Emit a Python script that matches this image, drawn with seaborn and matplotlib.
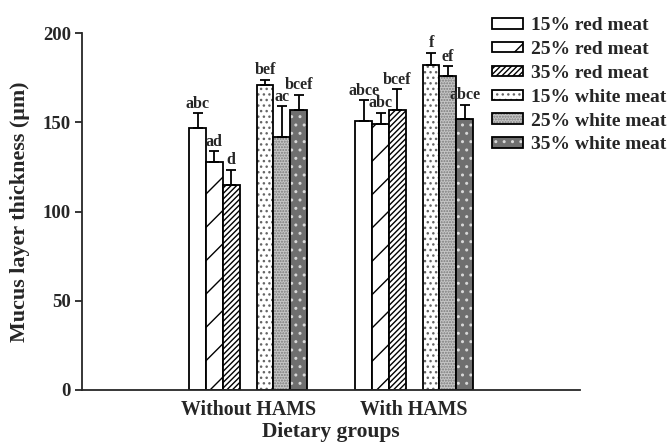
import numpy as np
import pandas as pd
import seaborn as sns
import matplotlib.pyplot as plt
import matplotlib.colors as mcolors

groups = ["Without HAMS", "With HAMS"]
diets = ["15% red meat", "25% red meat", "35% red meat",
         "15% white meat", "25% white meat", "35% white meat"]
mean_without = [147, 128, 115, 171, 142, 157]
mean_with = [151, 149, 157, 182, 176, 152]
err_without = [8, 6, 8.5, 3, 17, 8.5]
err_with = [11.5, 6.5, 11.5, 7, 5.5, 8]
letters_without = ["abc", "ad", "d", "bef", "ac", "bcef"]
letters_with = ["abce", "abc", "bcef", "f", "ef", "abce"]

# looks of each diet: face colour, hatch, hatch colour
faces = ["white", "white", "white", "white", "#c6c6c6", "#6f6f6f"]
hatches = ["", "/", "//////", "...", "......", ".."]
hatch_cols = ["black", "black", "black", "#666666", "#7a7a7a", "#d8d8d8"]

spacer = " "
hue_order = diets[:3] + [spacer] + diets[3:]
total_w = 0.71
slot_w = total_w / len(hue_order)

df = pd.DataFrame({
    "group": np.repeat(groups, len(diets)),
    "diet": diets * 2,
    "thickness": mean_without + mean_with,
    "err": err_without + err_with,
    "letter": letters_without + letters_with,
})

sns.set_style("ticks")
plt.rcParams["font.family"] = ["Liberation Serif", "DejaVu Serif"]
plt.rcParams["font.weight"] = "bold"
plt.rcParams["hatch.linewidth"] = 1.0

fig = plt.figure(figsize=(6.67, 4.46), dpi=100)
ax = fig.add_axes([0.123, 0.1256, 0.747, 0.80])

pal = {d: "white" for d in hue_order}
sns.barplot(data=df, x="group", y="thickness", hue="diet",
            order=groups, hue_order=hue_order, palette=pal,
            width=total_w, errorbar=None, legend=False,
            edgecolor="black", linewidth=1.3, ax=ax)

handles = [None] * len(diets)
xs, ms, es, ts = [], [], [], []
for p in list(ax.patches):
    if p.get_height() <= 0:
        continue
    xc = p.get_x() + p.get_width() / 2
    g = int(round(xc))
    slot = int(round((xc - g) / slot_w + (len(hue_order) - 1) / 2))
    i = diets.index(hue_order[slot])
    p.set_facecolor(faces[i])
    p.set_hatch(hatches[i])
    p._hatch_color = mcolors.to_rgba(hatch_cols[i])
    row = df[(df["group"] == groups[g]) & (df["diet"] == diets[i])].iloc[0]
    xs.append(xc)
    ms.append(row["thickness"])
    es.append(row["err"])
    ts.append(row["letter"])
    if handles[i] is None:
        handles[i] = p

ax.errorbar(xs, ms, yerr=[np.zeros(len(xs)), es], fmt="none", ecolor="black",
            elinewidth=1.3, capsize=3.5, capthick=1.3, zorder=1)
for x, m, e, t in zip(xs, ms, es, ts):
    ax.annotate(t, (x, m + e), xytext=(0, 1), textcoords="offset points",
                ha="center", va="bottom", fontsize=11.5, fontweight="bold")

ax.set_xlim(-1, 2)
ax.set_ylim(0, 200)
ax.set_yticks([0, 50, 100, 150, 200])
sns.despine(ax=ax)
for s in ["left", "bottom"]:
    ax.spines[s].set_linewidth(1.3)
ax.tick_params(axis="y", length=5, width=1.3, pad=3, labelsize=13.5)
ax.tick_params(axis="x", length=0, pad=7, labelsize=14.3)
ax.set_xlabel("Dietary groups", fontsize=15.5, fontweight="bold", labelpad=2)
ax.set_ylabel("Mucus layer thickness (µm)", fontsize=15.8, fontweight="bold",
              labelpad=9)

fig.legend(handles, diets, loc="upper left", bbox_to_anchor=(0.737, 0.961),
           frameon=False, handlelength=1.6, handleheight=0.45,
           handletextpad=0.45, labelspacing=0.35, borderpad=0,
           borderaxespad=0, prop={"weight": "bold", "size": 14})

fig.savefig("out.png", dpi=100)
